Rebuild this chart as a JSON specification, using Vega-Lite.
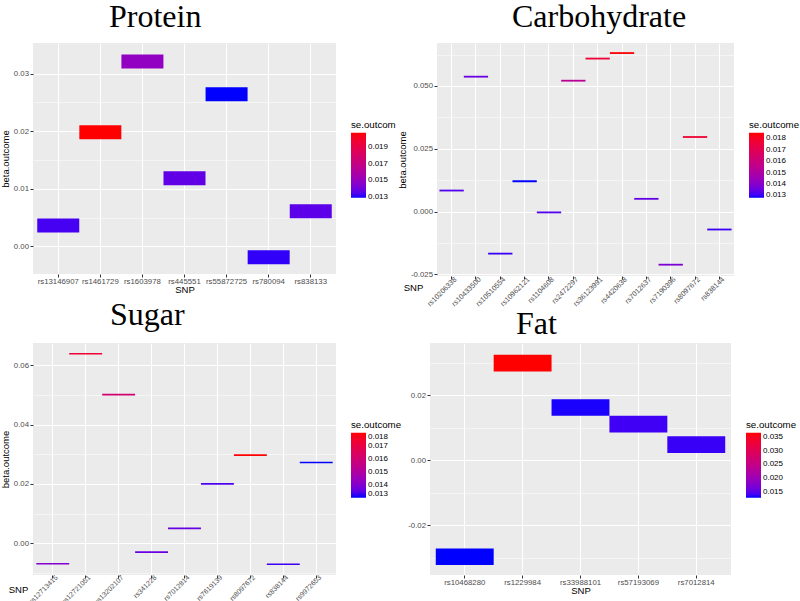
{
  "$schema": "https://vega.github.io/schema/vega-lite/v6.json",
  "background": "white",
  "padding": {"left": 0, "top": 1, "right": 0, "bottom": 0},
  "datasets": {
    "protein": [
      {"SNP": "rs13146907", "beta": 0.0036, "se": 0.0133},
      {"SNP": "rs1461729", "beta": 0.0198, "se": 0.0207},
      {"SNP": "rs1603978", "beta": 0.0321, "se": 0.0149},
      {"SNP": "rs445551", "beta": 0.0118, "se": 0.0137},
      {"SNP": "rs55872725", "beta": 0.0264, "se": 0.0129},
      {"SNP": "rs780094", "beta": -0.0019, "se": 0.0131},
      {"SNP": "rs838133", "beta": 0.0061, "se": 0.0136}
    ],
    "carbohydrate": [
      {"SNP": "rs10206338", "beta": 0.0084, "se": 0.0132},
      {"SNP": "rs10433500", "beta": 0.0537, "se": 0.0135},
      {"SNP": "rs10510554", "beta": -0.0167, "se": 0.0130},
      {"SNP": "rs10962121", "beta": 0.0121, "se": 0.0128},
      {"SNP": "rs1104608", "beta": -0.0003, "se": 0.0132},
      {"SNP": "rs2472297", "beta": 0.0521, "se": 0.0154},
      {"SNP": "rs36123991", "beta": 0.0609, "se": 0.0176},
      {"SNP": "rs4420638", "beta": 0.0631, "se": 0.0185},
      {"SNP": "rs7012637", "beta": 0.0051, "se": 0.0134},
      {"SNP": "rs7190396", "beta": -0.0211, "se": 0.0138},
      {"SNP": "rs8097672", "beta": 0.0297, "se": 0.0177},
      {"SNP": "rs838144", "beta": -0.0071, "se": 0.0130}
    ],
    "sugar": [
      {"SNP": "rs12713415", "beta": -0.0069, "se": 0.0140},
      {"SNP": "rs12721051", "beta": 0.0639, "se": 0.0173},
      {"SNP": "rs13202107", "beta": 0.0501, "se": 0.0160},
      {"SNP": "rs341228", "beta": -0.0030, "se": 0.0136},
      {"SNP": "rs7012814", "beta": 0.0050, "se": 0.0136},
      {"SNP": "rs7619139", "beta": 0.0200, "se": 0.0133},
      {"SNP": "rs8097672", "beta": 0.0297, "se": 0.0180},
      {"SNP": "rs838144", "beta": -0.0071, "se": 0.0132},
      {"SNP": "rs9972653", "beta": 0.0272, "se": 0.0130}
    ],
    "fat": [
      {"SNP": "rs10468280", "beta": -0.0296, "se": 0.0128},
      {"SNP": "rs1229984", "beta": 0.0298, "se": 0.0365},
      {"SNP": "rs33988101", "beta": 0.0162, "se": 0.0130},
      {"SNP": "rs57193069", "beta": 0.0111, "se": 0.0138},
      {"SNP": "rs7012814", "beta": 0.0048, "se": 0.0136}
    ]
  },
  "config": {
    "font": "Liberation Sans",
    "view": {"stroke": null, "fill": "#EBEBEB"},
    "axis": {
      "domain": false,
      "grid": true,
      "gridColor": "#FFFFFF",
      "gridWidth": 1.1,
      "tickColor": "#333333",
      "tickWidth": 1,
      "tickSize": 3,
      "labelColor": "#4D4D4D",
      "labelFontSize": 7.8,
      "labelPadding": 1.5,
      "titleColor": "#000000",
      "titleFontSize": 9.5,
      "titleFontWeight": "normal",
      "titlePadding": 3
    },
    "legend": {
      "titleFontSize": 9.7,
      "titleFontWeight": "normal",
      "titleColor": "#000000",
      "titlePadding": 3,
      "labelFontSize": 8,
      "labelColor": "#000000",
      "labelOffset": 5,
      "gradientLength": 65,
      "gradientThickness": 15,
      "gradientStrokeWidth": 0
    }
  },
  "vconcat": [
    {
      "hconcat": [
        {
          "width": 303,
          "height": 231,
          "title": {"text": "Protein", "font": "Liberation Serif", "fontSize": 32, "fontWeight": "normal", "color": "#000000", "anchor": "start", "frame": "group", "dx": 76, "baseline": "alphabetic", "offset": -16},
          "data": {"name": "protein"},
          "mark": {"type": "tick", "size": 42, "thickness": 14, "opacity": 1},
          "encoding": {
            "x": {"field": "SNP", "type": "nominal", "sort": null,
              "scale": {"type": "band", "paddingInner": 0, "paddingOuter": 0.1},
              "axis": {"title": "SNP", "labelAngle": 0, "bandPosition": 0.5, "labelPadding": 0, "titlePadding": 0}},
            "y": {"field": "beta", "type": "quantitative",
              "scale": {"domain": [-0.0048, 0.0353], "nice": false, "zero": false},
              "axis": {"title": "beta.outcome",
                "values": [0, 0.005, 0.01, 0.015, 0.02, 0.025, 0.03],
                "labelExpr": "abs(datum.value*100 - round(datum.value*100)) < 0.000001 ? replace(format(datum.value, '.2f'), '−', '-') : ''",
                "gridWidth": {"condition": {"test": "abs(datum.value*100 - round(datum.value*100)) < 0.000001", "value": 1.1}, "value": 0.5},
                "tickSize": {"condition": {"test": "abs(datum.value*100 - round(datum.value*100)) < 0.000001", "value": 3}, "value": 0}}},
            "color": {"field": "se", "type": "quantitative",
              "scale": {"range": ["#0000FF", "#FF0000"], "interpolate": "lab", "nice": false, "zero": false},
              "legend": {"title": "se.outcom", "orient": "none", "legendX": 318, "legendY": 77, "values": [0.013, 0.015, 0.017, 0.019], "format": ".3f"}}
          }
        },
        {
          "width": 297,
          "height": 233,
          "title": {"text": "Carbohydrate", "font": "Liberation Serif", "fontSize": 32, "fontWeight": "normal", "color": "#000000", "anchor": "start", "frame": "group", "dx": 75, "baseline": "alphabetic", "offset": -16},
          "data": {"name": "carbohydrate"},
          "mark": {"type": "tick", "size": 24.3, "thickness": 1.8, "opacity": 1},
          "encoding": {
            "x": {"field": "SNP", "type": "nominal", "sort": null,
              "scale": {"type": "band", "paddingInner": 0, "paddingOuter": 0.1},
              "axis": {"title": "SNP", "labelAngle": -45, "labelAlign": "right", "labelBaseline": "middle", "bandPosition": 0.5, "labelOffset": 4, "labelPadding": -1, "labelFontSize": 7.2, "titleX": -24, "titleY": 11, "titleBaseline": "middle", "titleAlign": "center"}},
            "y": {"field": "beta", "type": "quantitative",
              "scale": {"domain": [-0.0256, 0.0671], "nice": false, "zero": false},
              "axis": {"title": "beta.outcome",
                "values": [-0.025, -0.0125, 0, 0.0125, 0.025, 0.0375, 0.05, 0.0625],
                "labelExpr": "abs(datum.value*40 - round(datum.value*40)) < 0.000001 ? replace(format(datum.value, '.3f'), '−', '-') : ''",
                "gridWidth": {"condition": {"test": "abs(datum.value*40 - round(datum.value*40)) < 0.000001", "value": 1.1}, "value": 0.5},
                "tickSize": {"condition": {"test": "abs(datum.value*40 - round(datum.value*40)) < 0.000001", "value": 3}, "value": 0}}},
            "color": {"field": "se", "type": "quantitative",
              "scale": {"range": ["#0000FF", "#FF0000"], "interpolate": "lab", "nice": false, "zero": false},
              "legend": {"title": "se.outcome", "orient": "none", "legendX": 312, "legendY": 77, "values": [0.013, 0.014, 0.015, 0.016, 0.017, 0.018], "format": ".3f"}}
          }
        }
      ],
      "spacing": 1,
      "resolve": {"scale": {"color": "independent"}, "legend": {"color": "independent"}}
    },
    {
      "hconcat": [
        {
          "width": 303,
          "height": 232,
          "title": {"text": "Sugar", "font": "Liberation Serif", "fontSize": 32, "fontWeight": "normal", "color": "#000000", "anchor": "start", "frame": "group", "dx": 77, "baseline": "alphabetic", "offset": -14},
          "data": {"name": "sugar"},
          "mark": {"type": "tick", "size": 32.9, "thickness": 1.6, "opacity": 1},
          "encoding": {
            "x": {"field": "SNP", "type": "nominal", "sort": null,
              "scale": {"type": "band", "paddingInner": 0, "paddingOuter": 0.1},
              "axis": {"title": "SNP", "labelAngle": -45, "labelAlign": "right", "labelBaseline": "middle", "bandPosition": 0.5, "labelOffset": 4, "labelPadding": -2, "labelFontSize": 7, "titleX": -15, "titleY": 14, "titleBaseline": "middle", "titleAlign": "center"}},
            "y": {"field": "beta", "type": "quantitative",
              "scale": {"domain": [-0.0107, 0.0675], "nice": false, "zero": false},
              "axis": {"title": "beta.outcome",
                "values": [-0.01, 0, 0.01, 0.02, 0.03, 0.04, 0.05, 0.06],
                "labelExpr": "abs(datum.value*50 - round(datum.value*50)) < 0.000001 ? replace(format(datum.value, '.2f'), '−', '-') : ''",
                "gridWidth": {"condition": {"test": "abs(datum.value*50 - round(datum.value*50)) < 0.000001", "value": 1.1}, "value": 0.5},
                "tickSize": {"condition": {"test": "abs(datum.value*50 - round(datum.value*50)) < 0.000001", "value": 3}, "value": 0}}},
            "color": {"field": "se", "type": "quantitative",
              "scale": {"range": ["#0000FF", "#FF0000"], "interpolate": "lab", "nice": false, "zero": false},
              "legend": {"title": "se.outcome", "orient": "none", "legendX": 318, "legendY": 77, "values": [0.013, 0.014, 0.015, 0.016, 0.017, 0.018], "format": ".3f"}}
          }
        },
        {
          "width": 301,
          "height": 232,
          "title": {"text": "Fat", "font": "Liberation Serif", "fontSize": 32, "fontWeight": "normal", "color": "#000000", "anchor": "start", "frame": "group", "dx": 86, "baseline": "alphabetic", "offset": -23},
          "data": {"name": "fat"},
          "mark": {"type": "tick", "size": 57.9, "thickness": 16.7, "opacity": 1},
          "encoding": {
            "x": {"field": "SNP", "type": "nominal", "sort": null,
              "scale": {"type": "band", "paddingInner": 0, "paddingOuter": 0.1},
              "axis": {"title": "SNP", "labelAngle": 0, "bandPosition": 0.5, "labelPadding": 0, "titlePadding": 0}},
            "y": {"field": "beta", "type": "quantitative",
              "scale": {"domain": [-0.0352, 0.036], "nice": false, "zero": false},
              "axis": {"title": null,
                "values": [-0.03, -0.02, -0.01, 0, 0.01, 0.02, 0.03],
                "labelExpr": "abs(datum.value*50 - round(datum.value*50)) < 0.000001 ? replace(format(datum.value, '.2f'), '−', '-') : ''",
                "gridWidth": {"condition": {"test": "abs(datum.value*50 - round(datum.value*50)) < 0.000001", "value": 1.1}, "value": 0.5},
                "tickSize": {"condition": {"test": "abs(datum.value*50 - round(datum.value*50)) < 0.000001", "value": 3}, "value": 0}}},
            "color": {"field": "se", "type": "quantitative",
              "scale": {"range": ["#0000FF", "#FF0000"], "interpolate": "lab", "nice": false, "zero": false},
              "legend": {"title": "se.outcome", "orient": "none", "legendX": 316, "legendY": 77, "values": [0.015, 0.02, 0.025, 0.03, 0.035], "format": ".3f"}}
          }
        }
      ],
      "spacing": 5,
      "resolve": {"scale": {"color": "independent"}, "legend": {"color": "independent"}}
    }
  ],
  "spacing": -9,
  "resolve": {"scale": {"color": "independent"}, "legend": {"color": "independent"}}
}
